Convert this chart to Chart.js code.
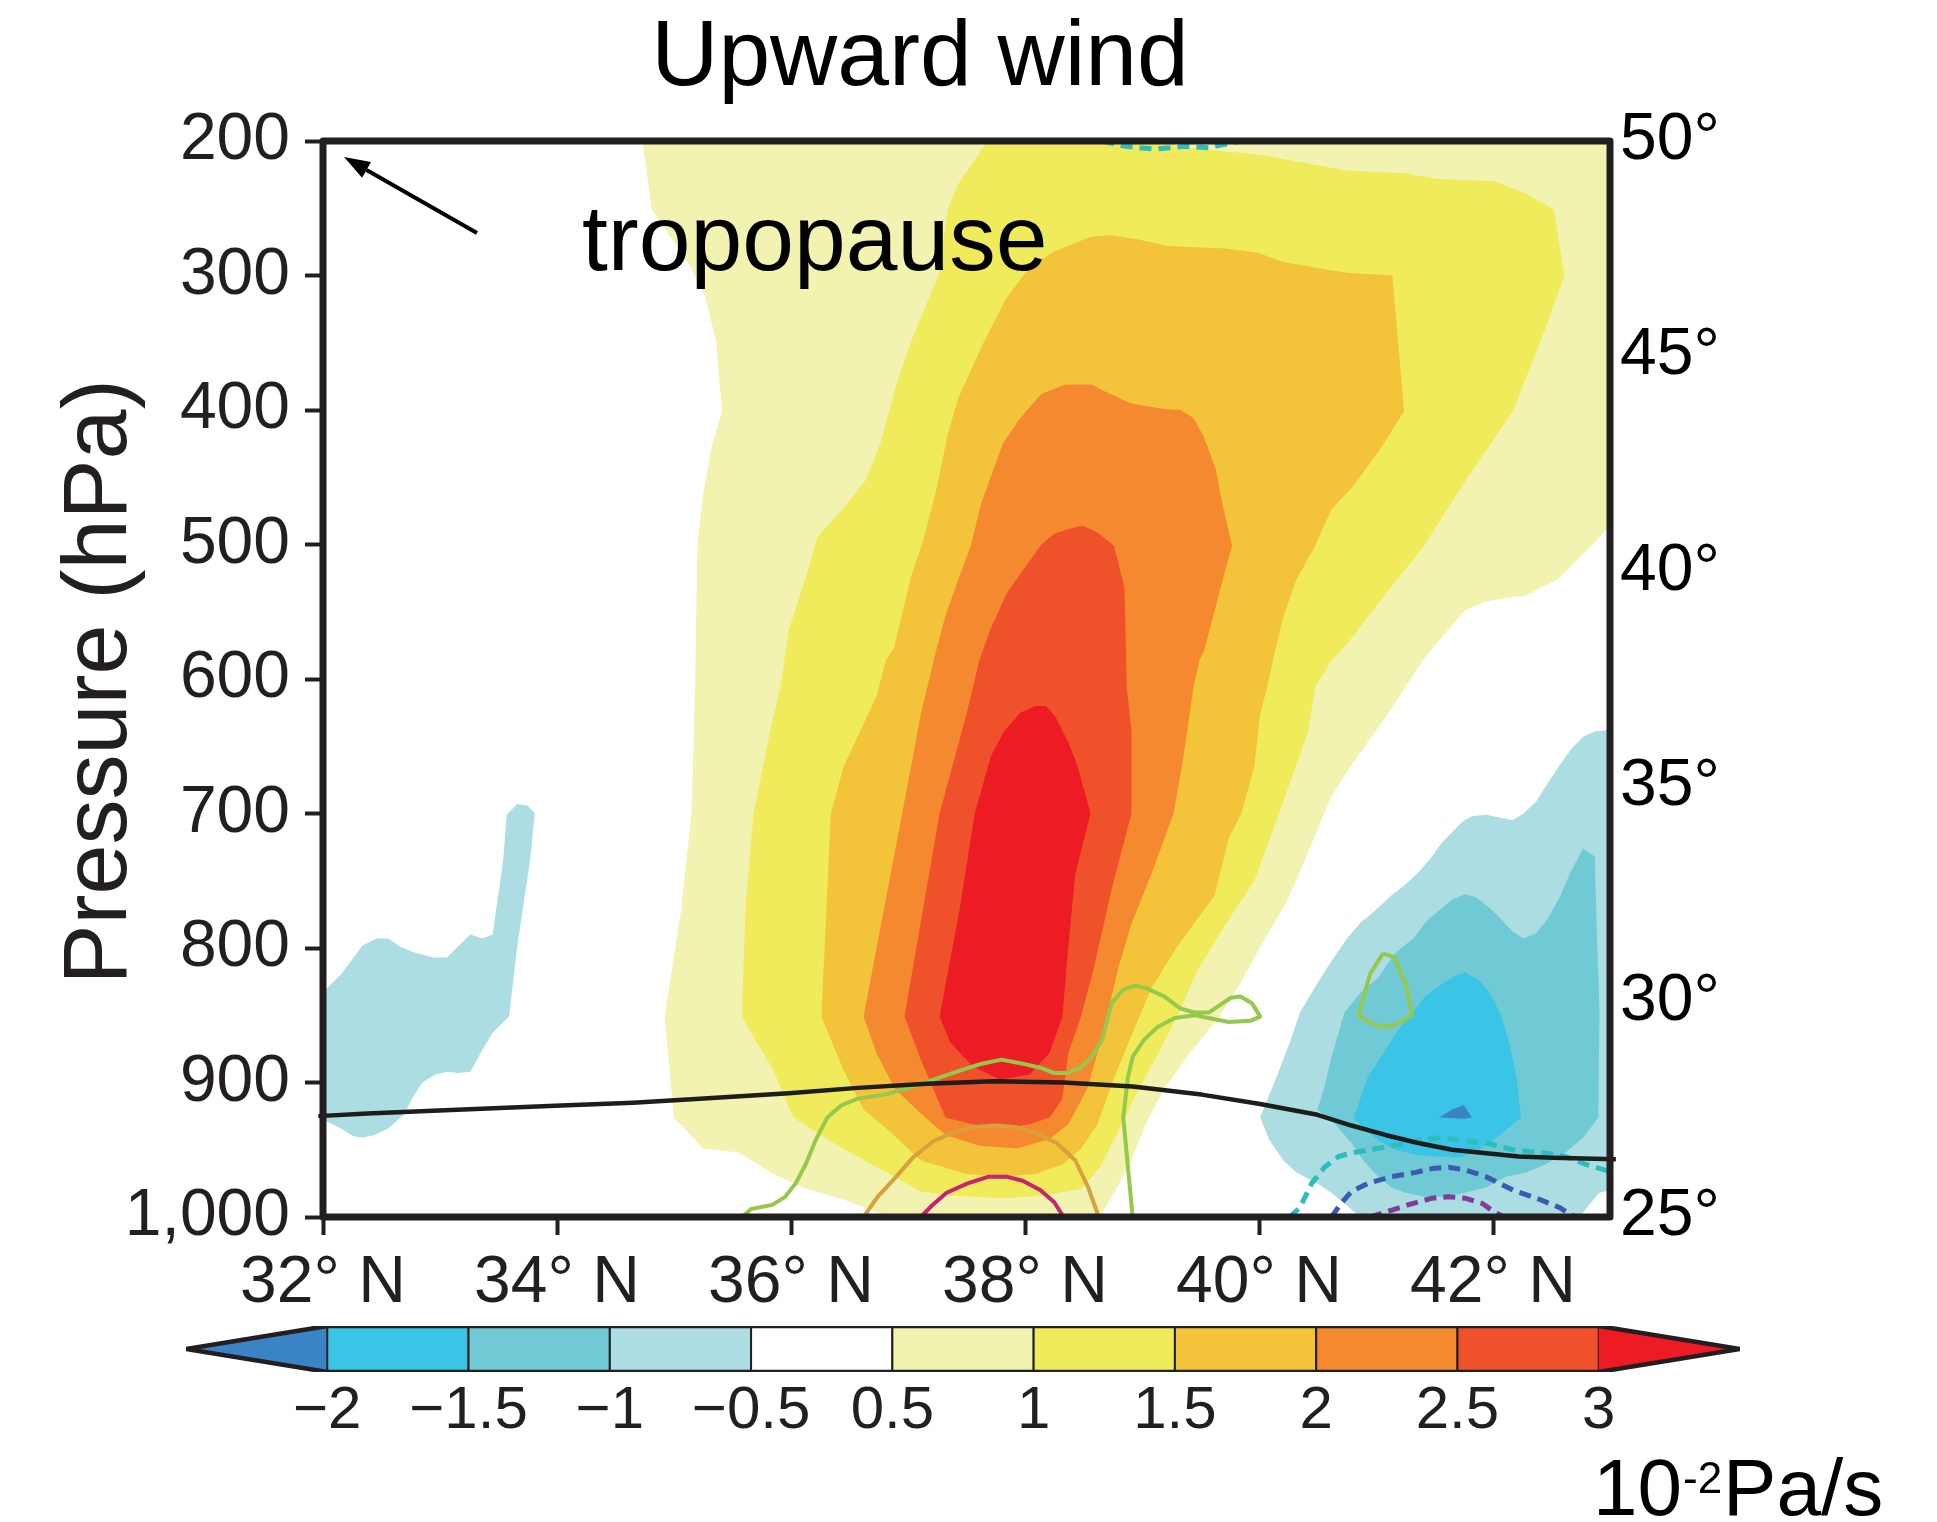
<!DOCTYPE html>
<html>
<head>
<meta charset="utf-8">
<title>Upward wind</title>
<script src="https://cdn.jsdelivr.net/npm/chart.js@4.4.1/dist/chart.umd.min.js"></script>
<style>
    html, body { margin: 0; padding: 0; background: #fff; }
    #wrap { position: relative; width: 1937px; height: 1522px; overflow: hidden; }
    #mainChart { position: absolute; left: 0; top: 0; }
    #barChart  { position: absolute; left: 0; top: 1290px; }
</style>
</head>
<body>
<div id="wrap">
    <canvas id="mainChart" width="1937" height="1522" style="width:1937px;height:1522px"></canvas>
    <canvas id="barChart" width="1937" height="232" style="width:1937px;height:232px"></canvas>
</div>
<script>
// ============================================================
//  DATA  (latitude in °N, pressure in hPa)
// ============================================================
const latTicks  = [32, 34, 36, 38, 40, 42];
const presTicks = [200, 300, 400, 500, 600, 700, 800, 900, 1000];
const tempTicks = [25, 30, 35, 40, 45, 50];

const levels      = [-2, -1.5, -1, -0.5, 0.5, 1, 1.5, 2, 2.5, 3];
const levelColors = ['#3a84c6', '#3ac4e6', '#6fcad5', '#acdde3', '#ffffff',
                     '#f2f2b1', '#efeb5b', '#f3c43a', '#f5892f', '#ef512a', '#ed1c24'];

// filled contours, outer to inner
const fillPale = [[34.73,200],[34.81,251],[35.14,293],[35.27,317],[35.36,349],[35.41,401],[35.32,428],[35.25,462],[35.20,500],[35.18,606],[35.15,700],[35.06,772],[34.92,851],[35.00,926],[35.25,949],[35.55,952],[35.85,968],[36.13,979],[36.45,987],[36.84,1000],[38.64,1000],[38.78,979],[38.91,958],[39.03,931],[39.19,905],[39.41,878],[39.66,851],[39.85,825],[40.01,799],[40.23,767],[40.39,735],[40.62,687],[40.78,665],[41.10,626],[41.40,586],[41.51,574],[41.76,549],[41.95,542],[42.28,538],[42.55,526],[42.85,500],[43.00,486],[43.00,200]];
const fillYellow = [[37.68,200],[37.43,232],[37.34,251],[37.26,300],[37.04,346],[36.91,378],[36.77,423],[36.64,452],[36.44,474],[36.23,494],[36.12,526],[35.98,564],[35.91,606],[35.82,639],[35.68,700],[35.61,772],[35.58,851],[35.85,891],[36.02,926],[36.40,947],[36.84,968],[37.11,981],[37.38,984],[37.82,986],[38.17,984],[38.48,979],[38.64,963],[38.80,936],[38.97,905],[39.14,878],[39.30,851],[39.46,819],[39.68,787],[39.96,750],[40.17,700],[40.42,639],[40.48,606],[40.62,586],[40.75,574],[41.08,537],[41.41,501],[41.79,449],[42.17,401],[42.44,341],[42.61,300],[42.52,251],[42.28,239],[42.01,230],[41.51,228],[41.24,224],[40.75,222],[39.99,210],[39.28,204],[39.22,200]];
const fillGold = [[38.03,295],[38.25,282],[38.57,271],[38.74,270],[38.96,273],[39.22,278],[39.72,280],[39.99,283],[40.21,290],[40.54,295],[40.75,298],[41.14,300],[41.19,351],[41.24,401],[41.03,430],[40.80,457],[40.62,474],[40.54,489],[40.48,501],[40.32,526],[40.21,553],[40.13,582],[40.07,606],[40.01,626],[39.96,665],[39.85,700],[39.74,719],[39.62,761],[39.30,799],[39.08,830],[38.91,865],[38.75,899],[38.62,931],[38.48,949],[38.32,961],[38.09,968],[37.82,970],[37.50,968],[37.11,958],[36.84,936],[36.62,920],[36.45,891],[36.26,851],[36.34,700],[36.45,665],[36.73,613],[36.81,586],[36.88,577],[37.02,526],[37.13,497],[37.24,460],[37.34,418],[37.43,391],[37.65,349],[37.84,317]];
const fillOrange = [[38.14,388],[38.35,381],[38.57,381],[38.68,386],[38.90,395],[39.17,399],[39.33,400],[39.44,406],[39.53,420],[39.63,444],[39.69,471],[39.77,501],[39.69,526],[39.61,553],[39.53,579],[39.49,586],[39.44,606],[39.35,660],[39.27,700],[39.08,745],[38.91,782],[38.80,814],[38.70,851],[38.62,878],[38.53,905],[38.37,931],[38.21,942],[37.93,949],[37.61,947],[37.32,939],[37.11,923],[36.89,905],[36.73,878],[36.62,851],[36.95,700],[37.11,626],[37.22,586],[37.24,579],[37.32,553],[37.43,526],[37.54,500],[37.62,471],[37.73,444],[37.81,425],[37.95,407]];
const fillRedOrange = [[38.35,489],[38.49,486],[38.62,491],[38.76,501],[38.85,532],[38.87,606],[38.91,639],[38.91,700],[38.75,753],[38.59,814],[38.48,851],[38.37,878],[38.32,912],[38.21,926],[38.04,931],[37.82,934],[37.55,931],[37.32,926],[37.11,883],[36.97,851],[37.27,700],[37.50,626],[37.61,586],[37.70,564],[37.84,537],[37.95,523],[38.14,500],[38.25,492]];
const fillRed = [[38.09,620],[37.96,625],[37.82,639],[37.71,657],[37.57,700],[37.44,772],[37.27,851],[37.36,870],[37.55,888],[37.79,898],[38.04,894],[38.21,878],[38.32,851],[38.37,799],[38.43,745],[38.56,700],[38.45,665],[38.37,647],[38.26,628],[38.18,620]];

const fillNegLeft = [[32.00,833],[32.16,819],[32.34,798],[32.46,793],[32.56,793],[32.66,799],[32.77,803],[32.94,807],[33.06,807],[33.15,799],[33.26,790],[33.36,793],[33.45,790],[33.54,735],[33.57,701],[33.66,693],[33.75,694],[33.81,700],[33.77,735],[33.66,799],[33.59,851],[33.45,863],[33.36,876],[33.26,892],[33.15,893],[33.06,892],[32.96,894],[32.85,900],[32.76,912],[32.70,923],[32.56,934],[32.44,939],[32.34,941],[32.26,940],[32.15,934],[32.03,929],[32.00,929]];
const fillNegRight = [[43.00,638],[42.87,639],[42.77,643],[42.68,651],[42.62,658],[42.54,668],[42.45,680],[42.37,691],[42.26,700],[42.17,705],[42.05,703],[41.94,701],[41.82,702],[41.74,706],[41.65,714],[41.56,722],[41.48,732],[41.36,744],[41.25,753],[41.13,761],[41.02,770],[40.87,781],[40.76,792],[40.64,807],[40.50,826],[40.35,848],[40.26,871],[40.15,896],[40.07,913],[40.01,926],[40.09,943],[40.21,958],[40.32,967],[40.50,975],[40.62,982],[40.73,990],[40.81,996],[40.87,1000],[42.74,1000],[42.83,990],[42.91,982],[43.00,980]];
const fillTeal = [[42.77,726],[42.87,732],[42.89,796],[42.91,846],[42.90,926],[42.77,941],[42.62,952],[42.45,961],[42.28,967],[42.11,970],[41.94,978],[41.76,982],[41.59,985],[41.42,985],[41.25,982],[41.13,978],[41.02,970],[40.90,959],[40.79,945],[40.64,930],[40.50,920],[40.56,903],[40.62,881],[40.68,863],[40.73,848],[40.87,833],[41.02,822],[41.16,804],[41.33,792],[41.42,781],[41.54,772],[41.65,764],[41.76,760],[41.85,762],[41.97,770],[42.05,777],[42.17,788],[42.26,793],[42.37,789],[42.47,778],[42.57,762],[42.66,744]];
const fillCyan = [[41.76,818],[41.65,822],[41.54,828],[41.42,836],[41.31,848],[41.19,861],[41.08,876],[40.93,896],[40.87,911],[40.81,926],[40.90,935],[41.02,943],[41.16,950],[41.36,954],[41.54,955],[41.71,956],[41.88,950],[42.03,941],[42.14,933],[42.24,926],[42.20,896],[42.14,871],[42.07,850],[41.97,833],[41.88,824]];
const fillBlue = [[41.54,926],[41.65,920],[41.75,917],[41.82,926],[41.76,927]];

// line contours
const lineBlack = [[31.96,925],[32.38,923],[32.94,921],[33.51,919],[34.09,917],[34.65,915],[35.22,912],[35.98,908],[36.57,904],[37.16,901],[37.74,899],[38.33,900],[38.92,903],[39.51,909],[40.01,916],[40.50,924],[40.79,932],[41.08,939],[41.36,945],[41.65,950],[41.88,952],[42.22,955],[42.51,956],[43.05,957]];
const lineGreen = [[35.58,1000],[35.66,994],[35.84,991],[35.95,985],[36.04,975],[36.13,960],[36.21,943],[36.31,926],[36.43,917],[36.57,912],[36.80,909],[37.01,904],[37.21,898],[37.45,891],[37.63,886],[37.80,883],[37.98,886],[38.13,889],[38.25,893],[38.37,893],[38.49,888],[38.57,881],[38.66,868],[38.74,841],[38.84,831],[38.94,828],[39.04,830],[39.19,836],[39.33,845],[39.45,848],[39.57,848],[39.69,841],[39.76,837],[39.84,836],[39.94,841],[40.01,851],[39.93,854],[39.74,855],[39.57,852],[39.45,850],[39.28,852],[39.13,859],[39.02,868],[38.92,881],[38.88,896],[38.84,926],[38.88,963],[38.92,1000]];
const lineGreenLoop = [[41.06,804],[41.16,807],[41.26,829],[41.31,850],[41.19,856],[41.08,859],[40.96,856],[40.85,850],[40.95,819],[41.06,804]];
const lineBrown = [[36.62,1000],[36.74,985],[36.90,970],[37.04,956],[37.21,944],[37.39,937],[37.57,933],[37.74,932],[37.92,933],[38.10,938],[38.27,945],[38.43,958],[38.54,978],[38.63,1000]];
const lineMagenta = [[37.11,1000],[37.21,991],[37.33,982],[37.51,975],[37.69,970],[37.84,970],[37.98,973],[38.13,980],[38.25,989],[38.33,1000]];
const lineCyanDash = [[40.26,1000],[40.35,993],[40.45,975],[40.56,963],[40.68,955],[40.81,952],[41.08,948],[41.31,944],[41.54,941],[41.71,943],[41.94,945],[42.17,950],[42.40,952],[42.62,955],[42.80,961],[43.03,967]];
const lineBlueDash = [[40.62,1000],[40.70,990],[40.79,981],[40.93,975],[41.13,970],[41.33,967],[41.48,964],[41.62,963],[41.76,965],[41.94,970],[42.17,980],[42.40,987],[42.57,993],[42.70,1000]];
const linePurpleDash = [[40.95,1000],[41.13,995],[41.31,990],[41.48,986],[41.62,985],[41.76,986],[41.91,990],[41.99,995],[42.09,1000]];
const lineTopDash = [[38.66,200],[38.86,204],[39.11,206],[39.37,204],[39.57,205],[39.83,200]];

// ============================================================
//  CHART
// ============================================================
const FONT = '"Liberation Sans", Arial, Helvetica, sans-serif';
const INK  = '#231f20';
Chart.defaults.font.family = FONT;
Chart.defaults.color = INK;

function toXY(pts) {
    return pts.map(function (p) { return { x: p[0], y: p[1] }; });
}

function areaSet(pts, color) {
    return {
        data: toXY(pts), fill: 'shape', backgroundColor: color,
        borderWidth: 0, pointRadius: 0, pointHitRadius: 0, tension: 0
    };
}

function lineSet(pts, color, width, dash) {
    return {
        data: toXY(pts), fill: false, borderColor: color, borderWidth: width,
        borderDash: dash || [], pointRadius: 0, pointHitRadius: 0, tension: 0,
        borderCapStyle: 'butt', borderJoinStyle: 'round', clip: 8
    };
}

// bottom first, top last
const mainSets = [
    areaSet(fillPale,      levelColors[5]),
    areaSet(fillYellow,    levelColors[6]),
    areaSet(fillGold,      levelColors[7]),
    areaSet(fillOrange,    levelColors[8]),
    areaSet(fillRedOrange, levelColors[9]),
    areaSet(fillRed,       levelColors[10]),
    areaSet(fillNegLeft,   levelColors[3]),
    areaSet(fillNegRight,  levelColors[3]),
    areaSet(fillTeal,      levelColors[2]),
    areaSet(fillCyan,      levelColors[1]),
    areaSet(fillBlue,      levelColors[0]),
    lineSet(lineGreen,      '#96c84c', 4),
    lineSet(lineGreenLoop,  '#96c84c', 4),
    lineSet(lineBrown,      '#d9a03e', 4),
    lineSet(lineMagenta,    '#c82370', 4),
    lineSet(lineCyanDash,   '#2dbdbe', 5, [12, 7]),
    lineSet(lineBlueDash,   '#3b5bb2', 5, [12, 7]),
    lineSet(linePurpleDash, '#7e3e98', 5, [12, 7]),
    lineSet(lineTopDash,    '#2dbdbe', 5, [12, 7]),
    lineSet(lineBlack,      '#1d1d1b', 4.5)
];
mainSets.forEach(function (d, i) { d.order = mainSets.length - i; });

const frameAndText = {
    id: 'frameAndText',
    afterDatasetsDraw(chart) {
        const a = chart.chartArea, ctx = chart.ctx;
        ctx.save();
        ctx.strokeStyle = INK;
        ctx.lineWidth = 7;
        ctx.lineJoin = 'round';
        ctx.strokeRect(a.left, a.top, a.right - a.left, a.bottom - a.top);
        ctx.restore();
    },
    afterDraw(chart) {
        const ctx = chart.ctx;
        ctx.save();
        ctx.fillStyle = '#000';
        ctx.textBaseline = 'alphabetic';

        ctx.font = '93px ' + FONT;
        ctx.textAlign = 'center';
        ctx.fillText('Upward wind', 920, 85);

        ctx.textAlign = 'left';
        ctx.fillText('tropopause', 582, 270);

        // arrow to the tropopause
        const tx = 344, ty = 157, fx = 477, fy = 233;
        const len = Math.hypot(tx - fx, ty - fy);
        const ux = (tx - fx) / len, uy = (ty - fy) / len;
        const bx = tx - 26 * ux, by = ty - 26 * uy;
        ctx.strokeStyle = '#000';
        ctx.lineWidth = 4;
        ctx.beginPath(); ctx.moveTo(fx, fy); ctx.lineTo(bx, by); ctx.stroke();
        ctx.beginPath();
        ctx.moveTo(tx, ty);
        ctx.lineTo(bx - 9 * uy, by + 9 * ux);
        ctx.lineTo(bx + 9 * uy, by - 9 * ux);
        ctx.closePath(); ctx.fill();

        ctx.fillStyle = INK;
        ctx.font = '90px ' + FONT;
        ctx.translate(126, 682);
        ctx.rotate(-Math.PI / 2);
        ctx.textAlign = 'center';
        ctx.fillText('Pressure (hPa)', 0, 0);
        ctx.restore();
    }
};

new Chart(document.getElementById('mainChart'), {
    type: 'line',
    data: { datasets: mainSets },
    options: {
        responsive: false, animation: false, events: [],
        layout: { padding: { top: 141, left: 0, right: 0, bottom: 0 } },
        plugins: { legend: { display: false }, tooltip: { enabled: false } },
        scales: {
            x: {
                type: 'linear', position: 'bottom', min: 32, max: 43,
                afterBuildTicks: s => { s.ticks = latTicks.map(v => ({ value: v })); },
                afterFit: s => { s.height = 305; },
                grid: { drawOnChartArea: false, drawTicks: true, tickLength: 18, tickWidth: 4, color: INK },
                border: { display: false },
                ticks: { autoSkip: false, maxRotation: 0, padding: 9, font: { size: 66 }, color: INK,
                         callback: v => v + '° N' }
            },
            y: {
                type: 'linear', position: 'left', min: 200, max: 1000, reverse: true,
                afterBuildTicks: s => { s.ticks = presTicks.map(v => ({ value: v })); },
                afterFit: s => { s.width = 323; },
                grid: { drawOnChartArea: false, drawTicks: true, tickLength: 18, tickWidth: 4, color: INK },
                border: { display: false },
                ticks: { autoSkip: false, padding: 15, font: { size: 66 }, color: INK,
                         callback: v => v.toLocaleString('en-US') }
            },
            y2: {
                type: 'linear', position: 'right', min: 25, max: 50,
                afterBuildTicks: s => { s.ticks = tempTicks.map(v => ({ value: v })); },
                afterFit: s => { s.width = 327; },
                grid: { display: false, drawTicks: false },
                border: { display: false },
                ticks: { autoSkip: false, padding: 10, font: { size: 66 }, color: '#000',
                         callback: v => v + '°' }
            }
        }
    },
    plugins: [frameAndText]
});

// ============================================================
//  COLOUR BAR
// ============================================================
const cbLabels = levels.map(v => v < 0 ? '\u2212' + Math.abs(v) : String(v));

const cbSets = [];
cbSets.push({ data: toXY([[-1, 0.5], [0, 0], [0, 1]]), fill: 'shape',
              backgroundColor: levelColors[0], borderWidth: 0, pointRadius: 0, tension: 0 });
for (let i = 0; i < levels.length - 1; i++) {
    cbSets.push({ data: toXY([[i, 0], [i + 1, 0], [i + 1, 1], [i, 1], [i, 0]]), fill: 'shape',
                  backgroundColor: levelColors[i + 1], borderColor: INK, borderWidth: 2,
                  pointRadius: 0, tension: 0 });
}
const last = levels.length - 1;
cbSets.push({ data: toXY([[last, 0], [last + 1, 0.5], [last, 1]]), fill: 'shape',
              backgroundColor: levelColors[levelColors.length - 1], borderWidth: 0, pointRadius: 0, tension: 0 });
cbSets.push({ data: toXY([[-1, 0.5], [0, 1], [last, 1], [last + 1, 0.5], [last, 0], [0, 0], [-1, 0.5]]),
              fill: false, borderColor: INK, borderWidth: 4.5, borderJoinStyle: 'miter',
              pointRadius: 0, tension: 0 });
cbSets.forEach(function (d, i) { d.order = cbSets.length - i; });

const unitLabel = {
    id: 'unitLabel',
    afterDraw(chart) {
        const ctx = chart.ctx;
        ctx.save();
        ctx.fillStyle = '#000';
        ctx.textAlign = 'left';
        ctx.textBaseline = 'alphabetic';
        let x = 1593;
        ctx.font = '80px ' + FONT;
        ctx.fillText('10', x, 225);
        x += ctx.measureText('10').width + 1;
        ctx.font = '44px ' + FONT;
        ctx.fillText('-2', x, 203);
        x += ctx.measureText('-2').width + 1;
        ctx.font = '80px ' + FONT;
        ctx.fillText('Pa/s', x, 225);
        ctx.restore();
    }
};

new Chart(document.getElementById('barChart'), {
    type: 'line',
    data: { datasets: cbSets },
    options: {
        responsive: false, animation: false, events: [],
        layout: { padding: { top: 36, left: 186, right: 197, bottom: 0 } },
        plugins: { legend: { display: false }, tooltip: { enabled: false } },
        scales: {
            x: {
                type: 'linear', min: -1, max: levels.length,
                afterBuildTicks: s => { s.ticks = levels.map((v, i) => ({ value: i })); },
                afterFit: s => { s.height = 150; },
                grid: { display: false, drawTicks: false },
                border: { display: false },
                ticks: { autoSkip: false, maxRotation: 0, padding: 3, font: { size: 60 }, color: INK,
                         callback: (v, i) => cbLabels[i] }
            },
            y: { type: 'linear', min: 0, max: 1, display: false }
        }
    },
    plugins: [unitLabel]
});
</script>
</body>
</html>
